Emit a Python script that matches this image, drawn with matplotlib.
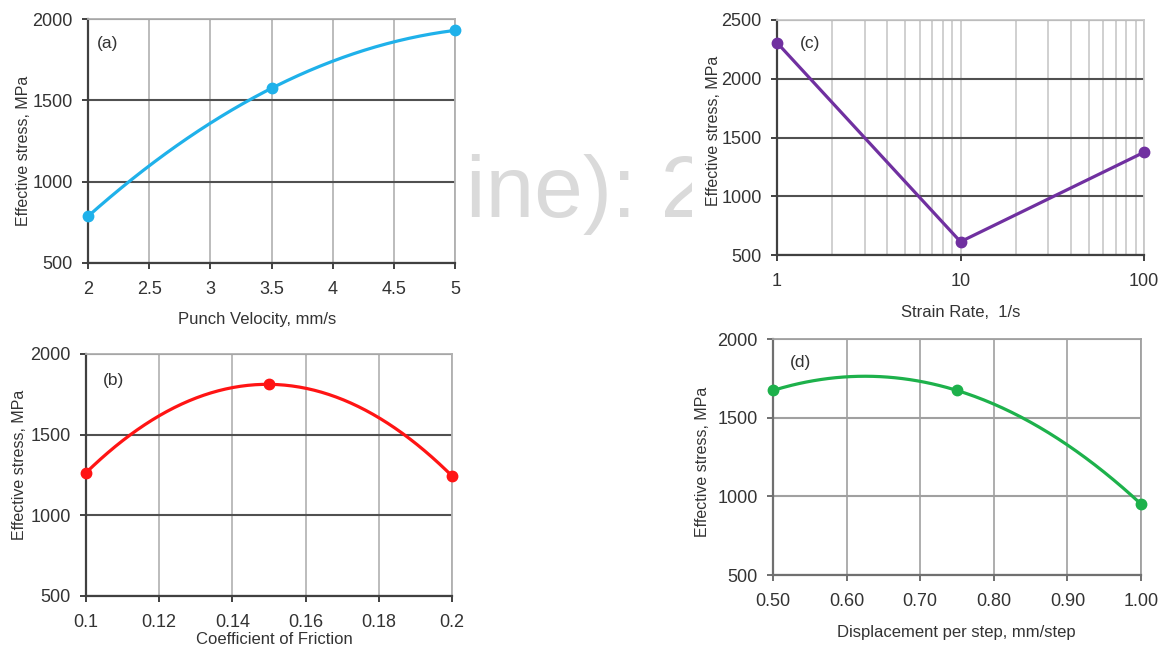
import numpy as np
import matplotlib.pyplot as plt
from matplotlib.ticker import FixedLocator, NullFormatter
from matplotlib.transforms import Bbox, TransformedBbox

plt.rcParams['font.family'] = ['Liberation Sans', 'DejaVu Sans']

# (a) punch velocity
vel = [2.0, 3.5, 5.0]
stress_vel = [787, 1574, 1930]
vel_ticks = [2, 2.5, 3, 3.5, 4, 4.5, 5]
vel_labels = ['2', '2.5', '3', '3.5', '4', '4.5', '5']

# (b) friction
fric = [0.10, 0.15, 0.20]
stress_fric = [1264, 1812, 1244]
fric_ticks = [0.1, 0.12, 0.14, 0.16, 0.18, 0.2]
fric_labels = ['0.1', '0.12', '0.14', '0.16', '0.18', '0.2']

# (c) strain rate
rate = [1, 10, 100]
stress_rate = [2307, 613, 1374]
rate_ticks = [1, 10, 100]
rate_labels = ['1', '10', '100']

# (d) displacement per step
disp = [0.50, 0.75, 1.00]
stress_disp = [1673, 1673, 951]
disp_ticks = [0.5, 0.6, 0.7, 0.8, 0.9, 1.0]
disp_labels = ['0.50', '0.60', '0.70', '0.80', '0.90', '1.00']

stress_ticks = [500, 1000, 1500, 2000]
stress_ticks_c = [500, 1000, 1500, 2000, 2500]

W, H = 1164, 646
fig = plt.figure(figsize=(W / 100, H / 100), dpi=100)


def px_axes(l, t, r, b):
    return fig.add_axes([l / W, (H - b) / H, (r - l) / W, (b - t) / H])


txt = '#333333'


def style(ax, vcol, hcol, edge_col):
    ax.set_axisbelow(True)
    for s in ['top', 'right']:
        ax.spines[s].set_color(vcol)
        ax.spines[s].set_linewidth(1.3)
    for s in ['left', 'bottom']:
        ax.spines[s].set_color(edge_col)
        ax.spines[s].set_linewidth(1.6)
    ax.grid(True, axis='x', which='both', color=vcol, lw=1.2)
    ax.grid(True, axis='y', color=hcol, lw=1.5)
    ax.tick_params(axis='both', which='major', direction='out', length=4,
                   width=1.4, color=edge_col, labelsize=13, labelcolor=txt)
    ax.tick_params(axis='x', pad=9)
    ax.tick_params(axis='y', pad=7)
    ax.tick_params(axis='x', which='minor', length=0)


def smooth(ax, x, y, color):
    c = np.polyfit(x, y, 2)
    xs = np.linspace(min(x), max(x), 200)
    ax.plot(xs, np.polyval(c, xs), color=color, lw=2.3, zorder=3)
    ax.plot(x, y, 'o', color=color, ms=7.5, zorder=4, clip_on=False)


# panel (a)
ax = px_axes(88, 19, 455, 263)
style(ax, '#b0b0b0', '#505050', '#404040')
smooth(ax, vel, stress_vel, '#1fb1ea')
ax.set_xlim(2, 5)
ax.set_ylim(500, 2000)
ax.set_xticks(vel_ticks, vel_labels)
ax.set_yticks(stress_ticks)
ax.set_xlabel('Punch Velocity, mm/s', fontsize=12, color=txt)
ax.xaxis.set_label_coords(0.46, -0.2)
ax.set_ylabel('Effective stress, MPa', fontsize=11.5, color=txt)
ax.yaxis.set_label_coords(-0.155, 0.46)
ax.text(0.025, 0.9, '(a)', transform=ax.transAxes, fontsize=12.5, color=txt,
        va='center')

# panel (b)
ax = px_axes(86, 354, 452, 596)
style(ax, '#b0b0b0', '#505050', '#404040')
smooth(ax, fric, stress_fric, '#ff1414')
ax.set_xlim(0.1, 0.2)
ax.set_ylim(500, 2000)
ax.set_xticks(fric_ticks, fric_labels)
ax.set_yticks(stress_ticks)
ax.set_xlabel('Coefficient of Friction', fontsize=12, color=txt)
ax.xaxis.set_label_coords(0.516, -0.15)
ax.set_ylabel('Effective stress, MPa', fontsize=11.5, color=txt)
ax.yaxis.set_label_coords(-0.161, 0.54)
ax.text(0.045, 0.89, '(b)', transform=ax.transAxes, fontsize=12.5, color=txt,
        va='center')

# panel (c)
ax = px_axes(777, 20, 1144, 255)
ax.set_xscale('log')
style(ax, '#c8c8c8', '#505050', '#404040')
ax.plot(rate, stress_rate, '-o', color='#7030a0', lw=2.3, ms=7.5, zorder=4,
        clip_on=False)
ax.set_xlim(1, 100)
ax.set_ylim(500, 2500)
ax.xaxis.set_major_locator(FixedLocator(rate_ticks))
ax.set_xticklabels(rate_labels)
ax.xaxis.set_minor_locator(FixedLocator(
    [m * d for d in (1, 10) for m in range(2, 10)]))
ax.xaxis.set_minor_formatter(NullFormatter())
ax.set_yticks(stress_ticks_c)
ax.set_xlabel('Strain Rate,  1/s', fontsize=12, color=txt)
ax.xaxis.set_label_coords(0.5, -0.213)
ax.set_ylabel('Effective stress, MPa', fontsize=11.5, color=txt)
ax.yaxis.set_label_coords(-0.153, 0.53)
ax.text(0.063, 0.9, '(c)', transform=ax.transAxes, fontsize=12.5, color=txt,
        va='center')

# panel (d)
ax = px_axes(773, 339, 1141, 575)
style(ax, '#a0a0a0', '#a0a0a0', '#707070')
smooth(ax, disp, stress_disp, '#1db14b')
ax.set_xlim(0.5, 1.0)
ax.set_ylim(500, 2000)
ax.set_xticks(disp_ticks, disp_labels)
ax.set_yticks(stress_ticks)
ax.set_xlabel('Displacement per step, mm/step', fontsize=12, color=txt)
ax.xaxis.set_label_coords(0.497, -0.212)
ax.set_ylabel('Effective stress, MPa', fontsize=11.5, color=txt)
ax.yaxis.set_label_coords(-0.171, 0.48)
ax.text(0.045, 0.9, '(d)', transform=ax.transAxes, fontsize=12.5, color=txt,
        va='center')

# faint watermark fragment between the panels
wm = fig.text(466 / W, 1 - 195 / H, 'ine): 2', fontsize=63, color='#dadada',
              va='center', ha='left', zorder=0)
wm.set_clip_box(TransformedBbox(Bbox([[463 / W, 0.5], [692 / W, 1.0]]),
                                fig.transFigure))

fig.savefig('out.png', dpi=100)
